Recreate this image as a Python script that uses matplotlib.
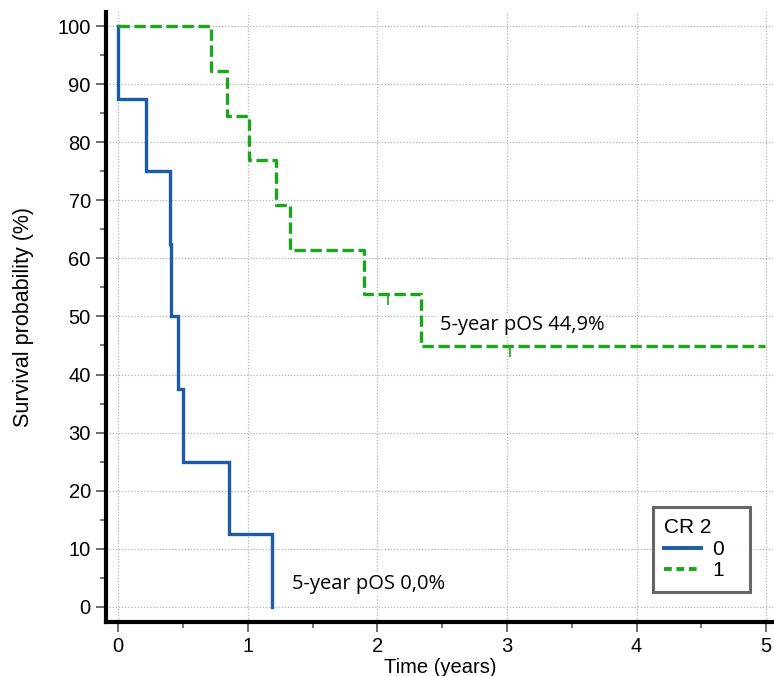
import matplotlib
matplotlib.use("Agg")
import matplotlib.pyplot as plt
from matplotlib.lines import Line2D

# ---- data ----
blue_times = [0, 0.216, 0.40, 0.41, 0.46, 0.50, 0.855, 1.19]
blue_surv = [87.5, 75.0, 62.5, 50.0, 37.5, 25.0, 12.5, 0.0]
green_times = [0.72, 0.84, 1.01, 1.22, 1.33, 1.90, 2.34]
green_surv = [92.3, 84.6, 76.9, 69.2, 61.5, 53.8, 44.9]
green_end = 4.99
green_censor_t = [2.08, 3.02]
green_censor_s = [53.8, 44.9]
legend_title = "CR 2"
group_labels = ["0", "1"]
ann_green = "5-year pOS 44,9%"
ann_blue = "5-year pOS 0,0%"

BLUE = "#1c5ca6"
GREEN = "#1aa51a"
arial = ["Liberation Sans", "DejaVu Sans"]
uifont = ["Open Sans", "DejaVu Sans"]

fig = plt.figure(figsize=(7.74, 6.76), dpi=100)
ax = fig.add_axes([0.137, 0.080, 0.863, 0.902])

# blue step curve
bx = [0]
by = [100]
prev = 100
for t, s in zip(blue_times, blue_surv):
    bx += [t, t]
    by += [prev, s]
    prev = s
ax.plot(bx, by, color=BLUE, lw=2.4, solid_joinstyle="miter", zorder=3)

# green step curve
gx = [0]
gy = [100]
prev = 100
for t, s in zip(green_times, green_surv):
    gx += [t, t]
    gy += [prev, s]
    prev = s
gx.append(green_end)
gy.append(prev)
ax.plot(gx, gy, color=GREEN, lw=2.4, linestyle=(0, (3.4, 1.4)), zorder=3)
ax.plot(green_censor_t, green_censor_s, linestyle="none", marker=3,
        markersize=8, markeredgewidth=1.2, color=GREEN, zorder=3)

ax.set_xlim(-0.093, 5.06)
ax.set_ylim(-2.6, 102.4)
ax.set_xticks(range(0, 6))
ax.set_xticks([0.5, 1.5, 2.5, 3.5, 4.5], minor=True)
ax.set_yticks(range(0, 101, 10))
ax.set_yticks(range(5, 100, 10), minor=True)
ax.grid(True, which="major", color="#b4b4b4", linestyle=(0, (1, 1.5)), lw=0.9)
ax.set_axisbelow(True)

for side in ["top", "right"]:
    ax.spines[side].set_visible(False)
for side in ["left", "bottom"]:
    ax.spines[side].set_linewidth(3)
    ax.spines[side].set_color("black")

ax.tick_params(which="major", direction="out", length=7, width=1.3, color="#606060",
               labelsize=14.5, pad=4)
ax.tick_params(which="minor", direction="out", length=4, width=1.2, color="#606060")
for lab in ax.get_xticklabels() + ax.get_yticklabels():
    lab.set_family(arial)

ax.set_xlabel("Time (years)", fontsize=14.5, family=arial, labelpad=1)
ax.set_ylabel("Survival probability (%)", fontsize=15.5, family=arial, labelpad=17)

ax.text(2.48, 48.6, ann_green, fontsize=14.5, family=uifont, va="center", ha="left",
        bbox=dict(facecolor="white", edgecolor="none", pad=1), zorder=4)
ax.text(1.34, 3.9, ann_blue, fontsize=14.5, family=uifont, va="center", ha="left",
        bbox=dict(facecolor="white", edgecolor="none", pad=1), zorder=4)

handles = [Line2D([], [], color=BLUE, lw=2.8),
           Line2D([], [], color=GREEN, lw=2.8, linestyle=(0, (2.0, 1.2)))]
leg = ax.legend(handles, group_labels, title=legend_title, loc="upper left",
                bbox_to_anchor=(653 / 774, 1 - 588 / 676, 97 / 774, 81 / 676),
                bbox_transform=fig.transFigure, mode="expand",
                frameon=True, fancybox=False,
                prop={"family": arial, "size": 15}, title_fontproperties={"family": arial, "size": 15},
                handlelength=1.75, handletextpad=0.55, borderpad=0.55, labelspacing=0.12,
                borderaxespad=0, alignment="left")
leg.get_frame().set_edgecolor("#404040")
leg.get_frame().set_linewidth(2.2)

fig.savefig("out.png", dpi=100, facecolor="white")
